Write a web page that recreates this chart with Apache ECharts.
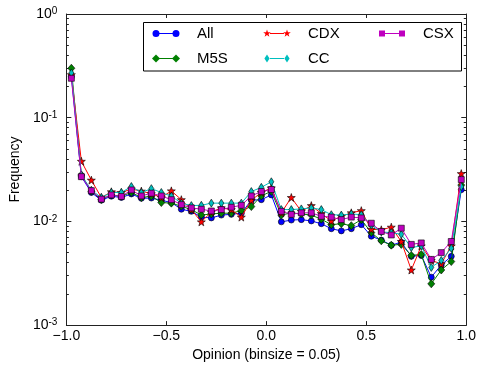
<!DOCTYPE html>
<html><head><meta charset="utf-8">
<script src="https://cdn.jsdelivr.net/npm/echarts@6/dist/echarts.min.js"></script>
<style>html,body{margin:0;padding:0;background:#fff}#c{width:479px;height:367px}</style>
</head><body><div id="c"></div>
<script>
// bin centres (binsize = 0.05)
const opinion = [-0.975,-0.925,-0.875,-0.825,-0.775,-0.725,-0.675,-0.625,-0.575,-0.525,
  -0.475,-0.425,-0.375,-0.325,-0.275,-0.225,-0.175,-0.125,-0.075,-0.025,
  0.025,0.075,0.125,0.175,0.225,0.275,0.325,0.375,0.425,0.475,
  0.525,0.575,0.625,0.675,0.725,0.775,0.825,0.875,0.925,0.975];
const freqAll = [0.25,0.027,0.019,0.016,0.0175,0.017,0.0184,0.0167,0.0168,0.016,
  0.0152,0.0131,0.0125,0.011,0.0108,0.0115,0.0117,0.012,0.016,0.0162,
  0.018,0.0099,0.0103,0.0104,0.0101,0.0095,0.0085,0.0081,0.0085,0.0093,
  0.0072,0.0066,0.0059,0.0063,0.0046,0.0047,0.0029,0.0038,0.0046,0.0202];
const freqM5S = [0.30,0.028,0.0195,0.0163,0.018,0.0175,0.019,0.017,0.0175,0.0152,
  0.015,0.014,0.013,0.0115,0.0118,0.012,0.012,0.0127,0.0139,0.0176,
  0.0195,0.0115,0.0121,0.0118,0.0115,0.0105,0.0093,0.0095,0.0091,0.0104,
  0.0078,0.0065,0.0059,0.006,0.0047,0.0048,0.0025,0.0034,0.0041,0.0224];
const freqCDX = [0.26,0.038,0.025,0.017,0.0193,0.019,0.0205,0.0196,0.0185,0.017,
  0.0197,0.0162,0.013,0.0099,0.0123,0.0135,0.013,0.011,0.016,0.019,
  0.021,0.0121,0.017,0.0125,0.0142,0.0119,0.0101,0.0112,0.0121,0.0127,
  0.0084,0.0083,0.0088,0.0064,0.0034,0.0058,0.0042,0.0039,0.0058,0.0289];
const freqCC = [0.27,0.028,0.02,0.017,0.019,0.019,0.0217,0.019,0.0207,0.019,
  0.0175,0.015,0.0142,0.0143,0.015,0.015,0.015,0.015,0.0194,0.0213,
  0.0241,0.013,0.013,0.0132,0.0135,0.013,0.0116,0.0115,0.0118,0.0116,
  0.0092,0.0079,0.0078,0.0075,0.0056,0.0058,0.0036,0.0042,0.0055,0.0216];
const freqCSX = [0.24,0.027,0.0198,0.0164,0.018,0.0174,0.0201,0.0176,0.0187,0.0176,
  0.0162,0.0145,0.0135,0.0131,0.0126,0.013,0.0137,0.0143,0.0176,0.0194,
  0.0203,0.0125,0.0117,0.0121,0.0121,0.0112,0.011,0.0104,0.011,0.0108,
  0.0096,0.008,0.0074,0.0086,0.006,0.0062,0.0043,0.005,0.0064,0.0253];
const seriesNames = ['All','M5S','CDX','CC','CSX'];
const xTicks = [-1.0,-0.5,0.0,0.5,1.0];

const FONT = 'Liberation Sans';
const STAR = 'path://M0,-10L2.35,-3.24L9.51,-3.09L3.8,1.24L5.88,8.09L0,4L-5.88,8.09L-3.8,1.24L-9.51,-3.09L-2.35,-3.24Z';
const styles = [
  {color:'#0000ff', symbol:'circle', size:6},
  {color:'#008000', symbol:'diamond', size:[7,8]},
  {color:'#ff0000', symbol:STAR, size:8},
  {color:'#00bfbf', symbol:'diamond', size:[5,8]},
  {color:'#bf00bf', symbol:'rect', size:6}
];
const values = [freqAll,freqM5S,freqCDX,freqCC,freqCSX];

// legend handle shapes (line with a marker at each end, like the original)
const LINE = 'M7,3.5L21,3.5L21,4.5L7,4.5Z';
const mk = {
  circle: c => `M${c-3.5},4a3.5,3.5 0 1,1 7,0a3.5,3.5 0 1,1 -7,0Z`,
  diamond: c => `M${c},0L${c+4},4L${c},8L${c-4},4Z`,
  thin: c => `M${c},0L${c+2.6},4L${c},8L${c-2.6},4Z`,
  star: c => `M${c},0L${c+0.94},2.71L${c+3.8},2.76L${c+1.52},4.49L${c+2.35},7.24L${c},5.6L${c-2.35},7.24L${c-1.52},4.49L${c-3.8},2.76L${c-0.94},2.71Z`,
  square: c => `M${c-3},1L${c+3},1L${c+3},7L${c-3},7Z`
};
const handleKinds = ['circle','diamond','star','thin','square'];
const handleIcon = i => 'path://M0,0L0.01,0L0,0.01Z M28,8L27.99,8L28,7.99Z ' + LINE + ' ' + mk[handleKinds[i]](4) + ' ' + mk[handleKinds[i]](24);

const chart = echarts.init(document.getElementById('c'), null, {renderer:'canvas'});
const fmtX = v => (v<0?'\u2212':'') + Math.abs(v).toFixed(1);
const fmtY = v => { const e = Math.round(Math.log10(v)); return '{b|10}{s|' + (e<0?'-':'') + Math.abs(e) + '}'; };
const axisLineStyle = {color:'#222', width:1};
function xAx(pos, lab){
  return {type:'value', position:pos, min:-1, max:1, interval:0.5,
    axisLine:{show:true, onZero:false, lineStyle:axisLineStyle},
    axisTick:{show:true, inside:true, length:4, lineStyle:{color:'#222'}},
    axisLabel:{show:lab, formatter:fmtX, color:'#000', fontFamily:FONT, fontSize:14, margin:4,
      customValues: xTicks},
    splitLine:{show:false},
    name: lab ? 'Opinion (binsize = 0.05)' : '', nameLocation:'middle', nameGap:20,
    nameTextStyle:{color:'#000', fontFamily:FONT, fontSize:14}
  };
}
function yAx(pos, lab){
  return {type:'log', logBase:10, position:pos, min:0.001, max:1,
    axisLine:{show:true, onZero:false, lineStyle:axisLineStyle},
    axisTick:{show:true, inside:true, length:5, lineStyle:{color:'#222'}},
    minorTick:{show:true, splitNumber:9, length:2.5, lineStyle:{color:'#222'}},
    axisLabel:{show:lab, formatter:fmtY, margin:9,
      rich:{b:{fontFamily:FONT, fontSize:14, color:'#000'}, s:{fontFamily:FONT, fontSize:10, color:'#000', padding:[0,0,5,0]}}},
    splitLine:{show:false}, minorSplitLine:{show:false},
    name: lab ? 'Frequency' : '', nameLocation:'middle', nameGap:38,
    nameTextStyle:{color:'#000', fontFamily:FONT, fontSize:14}
  };
}
const series = seriesNames.map((n,i)=>({
  name:n, type:'line', xAxisIndex:0, yAxisIndex:0,
  data: opinion.map((x,j)=>[x, values[i][j]]),
  symbol: styles[i].symbol, symbolSize: styles[i].size, showSymbol:true,
  lineStyle:{color:styles[i].color, width:1},
  itemStyle:{color:styles[i].color, borderColor:'#000', borderWidth:0.6},
  emphasis:{disabled:true}, animation:false, z:2+i
}));
const legText = {fontFamily:FONT, fontSize:15, color:'#000', padding:[0,0,0,12]};
function legItem(name){
  const i = seriesNames.indexOf(name);
  return {name, icon: handleIcon(i),
    itemStyle:{color:styles[i].color, borderWidth:0},
    lineStyle:{color:styles[i].color, width:1}};
}
function leg(names, left){
  return {data: names.map(legItem), left, top:21, orient:'vertical', itemWidth:28, itemHeight:8, itemGap:10,
    textStyle:legText, selectedMode:false, z:20};
}
chart.setOption({
  animation:false,
  grid:{left:59.5, right:11, top:14, bottom:36, containLabel:false},
  xAxis:[xAx('bottom', true), xAx('top', false)],
  yAxis:[yAx('left', true), yAx('right', false)],
  legend:[leg(['All','M5S'],147), leg(['CDX','CC'],258), leg(['CSX'],373)],
  graphic:[{type:'rect', shape:{x:143.5, y:22.5, width:318, height:48.5}, style:{fill:'#fff', stroke:'#000', lineWidth:1}, z:10}],
  series
});
</script></body></html>
